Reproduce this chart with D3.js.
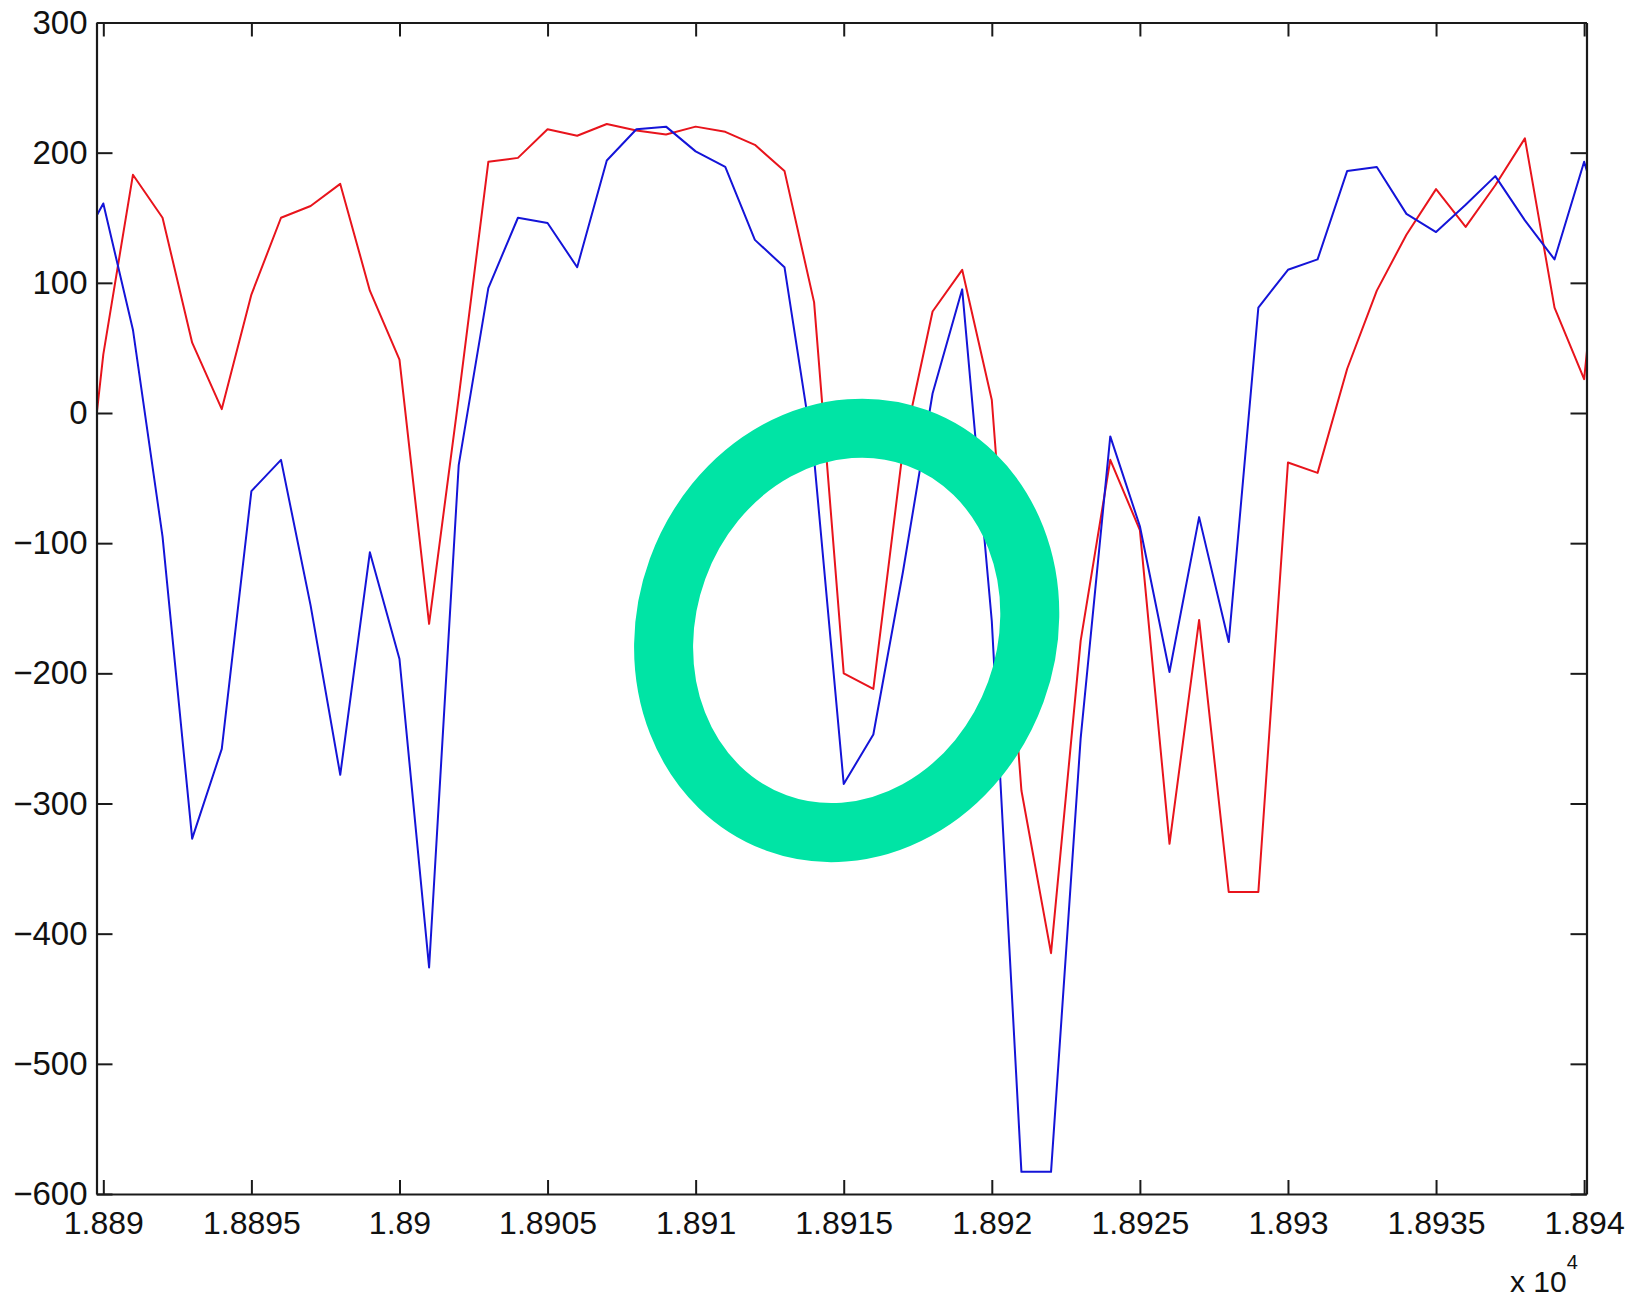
<!DOCTYPE html>
<html>
<head>
<meta charset="utf-8">
<script src="https://cdn.jsdelivr.net/npm/d3@7"></script>
<style>
  html, body { margin: 0; padding: 0; background: #ffffff; }
  svg { display: block; }
  text { font-family: "Liberation Sans", Arial, Helvetica, sans-serif; fill: #111; }
</style>
</head>
<body>
<svg id="chart" width="1632" height="1298"></svg>
<script>
// Sample positions (raw units; axis labels are shown scaled by 10^4)
const samples = [
  18889, 18890, 18891, 18892, 18893, 18894, 18895, 18896, 18897, 18898,
  18899, 18900, 18901, 18902, 18903, 18904, 18905, 18906, 18907, 18908,
  18909, 18910, 18911, 18912, 18913, 18914, 18915, 18916, 18917, 18918,
  18919, 18920, 18921, 18922, 18923, 18924, 18925, 18926, 18927, 18928,
  18929, 18930, 18931, 18932, 18933, 18934, 18935, 18936, 18937, 18938,
  18939, 18940, 18941
];

// Blue trace
const blueSeries = [
   119,  161,   64,  -95, -327, -258,  -60,  -36, -148, -278,
  -107, -189, -426,  -40,   96,  150,  146,  112,  194,  218,
   220,  201,  189,  133,  112,  -35, -285, -247, -122,   15,
    95, -160, -583, -583, -250,  -18,  -87, -199,  -80, -176,
    81,  110,  118,  186,  189,  153,  139,  160,  182,  148,
   118,  193,  118
];

// Red trace
const redSeries = [
  -160,   45,  183,  150,   54,    3,   91,  150,  159,  176,
    94,   41, -162,   12,  193,  196,  218,  213,  222,  217,
   214,  220,  216,  206,  186,   85, -200, -212,  -28,   78,
   110,   10, -290, -415, -175,  -36,  -90, -331, -159, -368,
  -368,  -38,  -46,   34,   94,  137,  172,  143,  175,  211,
    81,   26,  250
];

const xTicks = [18890, 18895, 18900, 18905, 18910, 18915, 18920, 18925, 18930, 18935, 18940];
const yTicks = [300, 200, 100, 0, -100, -200, -300, -400, -500, -600];
const xDomain = [18889.77, 18940.08];
const yDomain = [-600, 300];

const plot = { left: 96.5, right: 1586.5, top: 22.5, bottom: 1194 };

const svg = d3.select("#chart");

const x = d3.scaleLinear().domain(xDomain).range([plot.left, plot.right]);
const y = d3.scaleLinear().domain(yDomain).range([plot.bottom, plot.top]);

// Clip the traces to the axes box
svg.append("defs").append("clipPath").attr("id", "plot-clip")
  .append("rect")
  .attr("x", plot.left).attr("y", plot.top)
  .attr("width", plot.right - plot.left)
  .attr("height", plot.bottom - plot.top);

const line = d3.line().x(d => x(d[0])).y(d => y(d[1]));

const traces = svg.append("g").attr("clip-path", "url(#plot-clip)");
traces.append("path")
  .datum(samples.map((s, i) => [s, redSeries[i]]))
  .attr("d", line)
  .attr("fill", "none")
  .attr("stroke", "#e8141c")
  .attr("stroke-width", 2)
  .attr("stroke-linejoin", "round");
traces.append("path")
  .datum(samples.map((s, i) => [s, blueSeries[i]]))
  .attr("d", line)
  .attr("fill", "none")
  .attr("stroke", "#1414d8")
  .attr("stroke-width", 2)
  .attr("stroke-linejoin", "round");

// Axes box with inward ticks on all four sides
const fmtX = v => String(+(v / 1e4).toFixed(4));
const fmtY = v => (v < 0 ? "\u2212" + Math.abs(v) : String(v));

const axisColor = "#1a1a1a";

const bottomAxis = d3.axisBottom(x).tickValues(xTicks).tickFormat(fmtX)
  .tickSizeInner(-14).tickSizeOuter(0).tickPadding(17);
const gB = svg.append("g").attr("transform", `translate(0,${plot.bottom})`).call(bottomAxis);

const topAxis = d3.axisTop(x).tickValues(xTicks).tickFormat("")
  .tickSizeInner(-14).tickSizeOuter(0);
const gT = svg.append("g").attr("transform", `translate(0,${plot.top})`).call(topAxis);

const leftAxis = d3.axisLeft(y).tickValues(yTicks).tickFormat(fmtY)
  .tickSizeInner(-16).tickSizeOuter(0).tickPadding(9);
const gL = svg.append("g").attr("transform", `translate(${plot.left},0)`).call(leftAxis);

const rightAxis = d3.axisRight(y).tickValues(yTicks).tickFormat("")
  .tickSizeInner(-16).tickSizeOuter(0);
const gR = svg.append("g").attr("transform", `translate(${plot.right},0)`).call(rightAxis);

[gB, gT, gL, gR].forEach(g => {
  g.select(".domain").attr("stroke", axisColor).attr("stroke-width", 2.2);
  g.selectAll(".tick line").attr("stroke", axisColor).attr("stroke-width", 2);
});

gB.selectAll(".tick text")
  .attr("font-size", 32)
  .attr("font-family", "'Liberation Sans', Arial, sans-serif")
  .attr("fill", "#111");
gL.selectAll(".tick text")
  .attr("font-size", 33)
  .attr("font-family", "'Liberation Sans', Arial, sans-serif")
  .attr("fill", "#111");

// Exponent multiplier under the x axis
const mult = svg.append("text")
  .attr("x", 1510)
  .attr("y", 1292)
  .attr("font-size", 30);
mult.append("tspan").text("x 10");
mult.append("tspan")
  .attr("font-size", 20)
  .attr("dy", -23)
  .text("4");

// Highlight ring drawn over the dip around 1.8915
svg.append("ellipse")
  .attr("cx", x(18915.1))
  .attr("cy", y(-167))
  .attr("rx", 180)
  .attr("ry", 205)
  .attr("transform", `rotate(20, ${x(18915.1)}, ${y(-167)})`)
  .attr("fill", "none")
  .attr("stroke", "#00e4a5")
  .attr("stroke-width", 59);
</script>
</body>
</html>
